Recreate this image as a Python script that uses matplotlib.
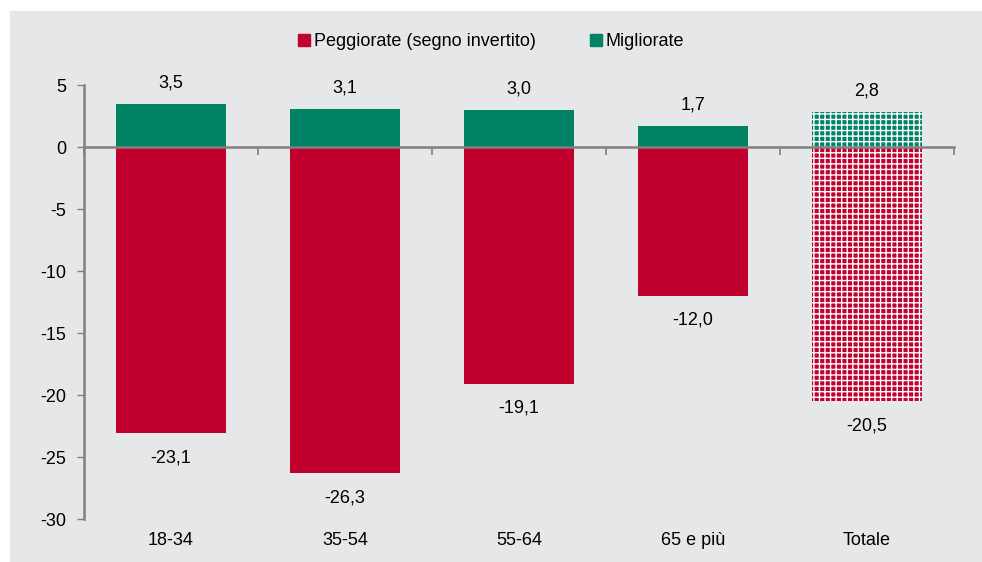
import matplotlib.pyplot as plt
import matplotlib.patches as mpatches
import matplotlib.transforms as mtransforms

plt.rcParams['font.family'] = ['Liberation Sans', 'DejaVu Sans']
plt.rcParams['axes.unicode_minus'] = False
plt.rcParams['hatch.linewidth'] = 1.0

categorie = ['18-34', '35-54', '55-64', '65 e più', 'Totale']
peggiorate = [-23.1, -26.3, -19.1, -12.0, -20.5]
migliorate = [3.5, 3.1, 3.0, 1.7, 2.8]

rosso = '#C0002D'
verde = '#008265'
grigio_bg = '#E6E7E9'
grigio_assi = '#808080'

fig = plt.figure(figsize=(9.82, 5.62), dpi=100)
fig.patch.set_facecolor('white')
# pannello grigio dietro al grafico
fig.patches.append(mpatches.Rectangle((10 / 982, -0.01), 1, 1.01 - 11 / 562,
                                      transform=fig.transFigure,
                                      facecolor=grigio_bg, edgecolor='none',
                                      zorder=-10))

ax = fig.add_axes([84 / 982, 1 - 519 / 562, (954 - 84) / 982, (519 - 85) / 562])
ax.set_facecolor('none')

x = list(range(len(categorie)))
w = 0.63
for i in x:
    if categorie[i] == 'Totale':
        ax.bar(i, peggiorate[i], w, color=rosso, edgecolor='white',
               linewidth=0, hatch='+++')
        ax.bar(i, migliorate[i], w, color=verde, edgecolor='white',
               linewidth=0, hatch='+++')
    else:
        ax.bar(i, peggiorate[i], w, color=rosso, linewidth=0)
        ax.bar(i, migliorate[i], w, color=verde, linewidth=0)

    ax.text(i, migliorate[i] + 1.0, f'{migliorate[i]:.1f}'.replace('.', ','),
            ha='center', va='bottom', fontsize=13)
    ax.text(i, peggiorate[i] - 1.3, f'{peggiorate[i]:.1f}'.replace('.', ','),
            ha='center', va='top', fontsize=13)

ax.set_xlim(-0.5, len(categorie) - 0.5)
ax.set_ylim(-30, 5)
ax.set_yticks(range(-30, 6, 5))
ax.tick_params(axis='y', labelsize=13, length=5, width=1, color=grigio_assi,
               pad=8)

ax.spines['top'].set_visible(False)
ax.spines['right'].set_visible(False)
ax.spines['bottom'].set_position(('data', 0))
for s in ['left', 'bottom']:
    ax.spines[s].set_color(grigio_assi)
    ax.spines[s].set_linewidth(1.8)

ax.set_xticks([i + 0.5 for i in range(-1, len(categorie))])
ax.set_xticklabels([])
ax.tick_params(axis='x', length=6, width=1.2, color=grigio_assi)

trans = mtransforms.blended_transform_factory(ax.transData, ax.transAxes)
for i, c in enumerate(categorie):
    ax.text(i, -0.05, c, transform=trans, ha='center', va='center', fontsize=13)

handles = [mpatches.Patch(color=rosso, label='Peggiorate (segno invertito)'),
           mpatches.Patch(color=verde, label='Migliorate')]
fig.legend(handles=handles, loc='center', bbox_to_anchor=(0.5, 1 - 42 / 562),
           ncol=2, frameon=False, fontsize=13, handlelength=0.65,
           handleheight=0.65, handletextpad=0.2, columnspacing=3.0)

fig.savefig('out.png', dpi=100)
